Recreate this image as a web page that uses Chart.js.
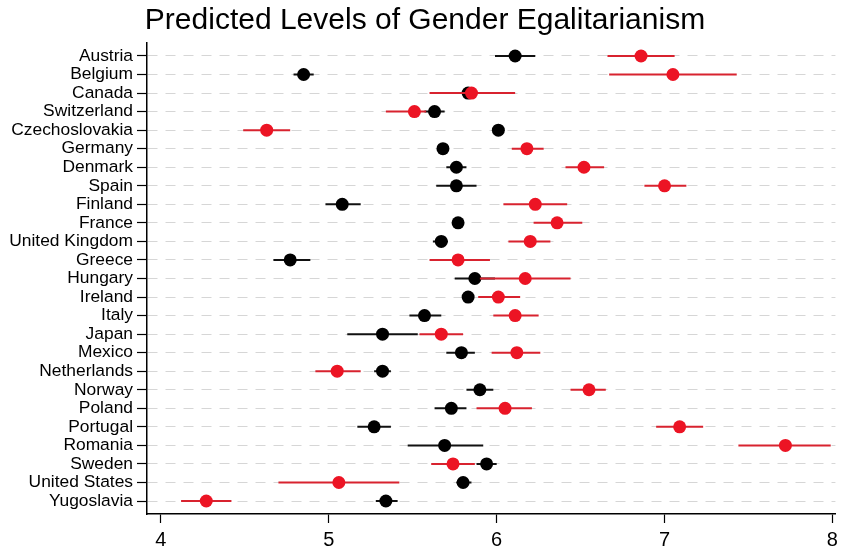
<!DOCTYPE html>
<html><head><meta charset="utf-8">
<script src="https://cdn.jsdelivr.net/npm/chart.js@4/dist/chart.umd.min.js"></script>
<style>html,body{margin:0;padding:0;background:#fff}#wrap{width:843px;height:551px}</style>
</head><body><div id="wrap"><canvas id="c" width="843" height="551"></canvas></div>
<script>
const countries = ["Austria","Belgium","Canada","Switzerland","Czechoslovakia","Germany","Denmark","Spain","Finland","France","United Kingdom","Greece","Hungary","Ireland","Italy","Japan","Mexico","Netherlands","Norway","Poland","Portugal","Romania","Sweden","United States","Yugoslavia"];
const blackEst = [6.11,4.85,5.83,5.63,6.01,5.68,5.76,5.76,5.08,5.77,5.67,4.77,5.87,5.83,5.57,5.32,5.79,5.32,5.90,5.73,5.27,5.69,5.94,5.80,5.34];
const blackLo  = [5.99,4.79,5.73,5.57,5.98,5.66,5.70,5.64,4.98,5.75,5.62,4.67,5.75,5.81,5.48,5.11,5.70,5.27,5.82,5.63,5.17,5.47,5.88,5.76,5.28];
const blackHi  = [6.23,4.91,5.95,5.69,6.04,5.70,5.82,5.88,5.19,5.79,5.71,4.89,5.99,5.85,5.67,5.53,5.87,5.37,5.98,5.82,5.37,5.92,6.00,5.85,5.41];
const redEst = [6.86,7.05,5.85,5.51,4.63,6.18,6.52,7.00,6.23,6.36,6.20,5.77,6.17,6.01,6.11,5.67,6.12,5.05,6.55,6.05,7.09,7.72,5.74,5.06,4.27];
const redLo  = [6.66,6.67,5.60,5.34,4.49,6.09,6.41,6.88,6.04,6.22,6.07,5.60,5.90,5.89,5.98,5.54,5.97,4.92,6.44,5.88,6.95,7.44,5.61,4.70,4.12];
const redHi  = [7.06,7.43,6.11,5.58,4.77,6.28,6.64,7.13,6.42,6.51,6.32,5.96,6.44,6.14,6.25,5.80,6.26,5.19,6.65,6.21,7.23,7.99,5.87,5.42,4.42];
const xTicks = [4,5,6,7,8];

function ciData(lo, hi){
  const d = [];
  lo.forEach((v,i)=>{ d.push({x:v,y:i}); d.push({x:hi[i],y:i}); d.push({x:null,y:null}); });
  return d;
}
function ptData(est){ return est.map((v,i)=>({x:v,y:i})); }

const FONT = "'Liberation Sans', Arial, Helvetica, sans-serif";
const BLACK = '#000000', RED = '#ec1424', REDLINE = '#d8232f';

new Chart(document.getElementById('c'), {
  type: 'scatter',
  data: { datasets: [
    { data: ptData(redEst), backgroundColor: RED, borderColor: RED, pointRadius: 6.5, pointHoverRadius: 6.5, borderWidth: 0, order: 0 },
    { data: ciData(redLo, redHi), showLine: true, spanGaps: false, borderColor: REDLINE, borderWidth: 2, pointRadius: 0, order: 1 },
    { data: ptData(blackEst), backgroundColor: BLACK, borderColor: BLACK, pointRadius: 6.5, pointHoverRadius: 6.5, borderWidth: 0, order: 2 },
    { data: ciData(blackLo, blackHi), showLine: true, spanGaps: false, borderColor: '#111', borderWidth: 2, pointRadius: 0, order: 3 }
  ]},
  options: {
    responsive: false, animation: false, devicePixelRatio: 1,
    layout: { padding: { left: 0, right: -7, top: 0, bottom: 0 } },
    plugins: {
      legend: { display: false }, tooltip: { enabled: false },
      title: { display: true, text: 'Predicted Levels of Gender Egalitarianism', color: '#000',
        font: { family: FONT, size: 30, weight: 'normal', lineHeight: 1.2 }, padding: { top: 3, bottom: 4 } }
    },
    scales: {
      x: { type: 'linear', min: 3.917, max: 8.018,
        afterBuildTicks: s => { s.ticks = xTicks.map(v => ({ value: v })); },
        afterFit: s => { s.height = 37; },
        grid: { drawOnChartArea: false, drawTicks: true, tickLength: 9, tickColor: '#000', tickWidth: 1.2 },
        border: { display: true, color: '#000', width: 1.5 },
        ticks: { color: '#000', font: { family: FONT, size: 20 }, padding: 5, maxRotation: 0 }
      },
      y: { type: 'linear', reverse: true, min: -0.7, max: 24.7,
        afterBuildTicks: s => { s.ticks = countries.map((c,i) => ({ value: i })); },
        afterFit: s => { s.width = 147; },
        grid: { drawOnChartArea: true, color: '#d6d6d6', lineWidth: 1, tickLength: 10, tickColor: '#000', tickWidth: 1.2, tickBorderDash: [] },
        border: { display: true, color: '#000', width: 1.5, dash: [10, 8] },
        ticks: { color: '#000', font: { family: FONT, size: 17.4 }, padding: 4, autoSkip: false,
          callback: v => countries[v] }
      }
    }
  }
});
</script></body></html>
